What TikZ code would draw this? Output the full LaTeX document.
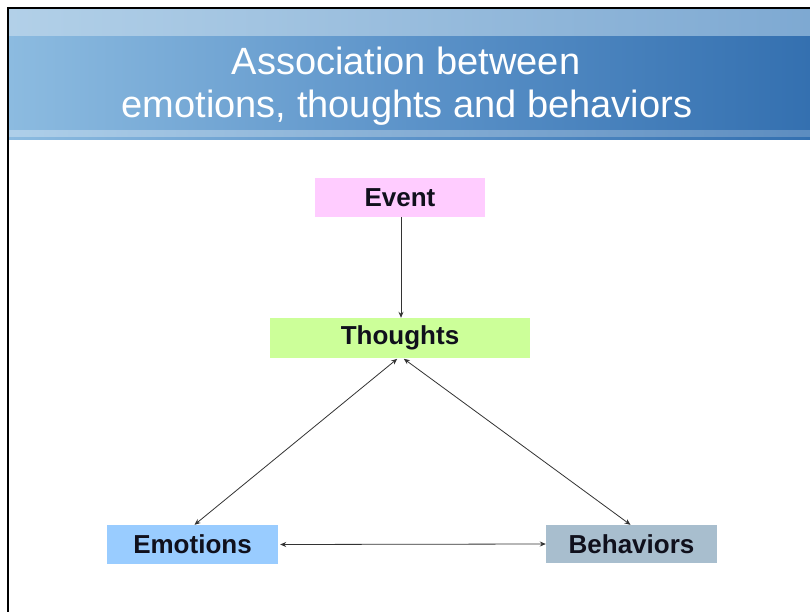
\documentclass[tikz,border=0pt]{standalone}
\usepackage{fontspec}
\setmainfont{Liberation Sans}
\usetikzlibrary{arrows.meta}
\definecolor{evpink}{HTML}{FFCCFF}
\definecolor{thgreen}{HTML}{CCFF99}
\definecolor{emblue}{HTML}{99CCFF}
\definecolor{begray}{HTML}{A8BECE}
\definecolor{txtdark}{HTML}{10101C}
\definecolor{arrowc}{HTML}{333333}
\definecolor{banL}{HTML}{8CBBE0}
\definecolor{banM}{HTML}{5C93C9}
\definecolor{banR}{HTML}{3470B0}
\definecolor{stripL}{HTML}{B2D0E8}
\definecolor{stripR}{HTML}{7EA9D2}
\tikzset{
  box/.style={draw=none, inner sep=0pt, text=txtdark, font=\fontsize{26}{31}\selectfont\bfseries},
  titletext/.style={text=white, font=\fontsize{38}{44}\selectfont, anchor=base, inner sep=0pt},
  conn/.style={draw=arrowc, line width=0.8pt, -{Stealth[length=6pt,width=5pt]}},
  conn2/.style={draw=arrowc, line width=0.8pt, {Stealth[length=6pt,width=5pt]}-{Stealth[length=6pt,width=5pt]}}
}
\begin{document}
\begin{tikzpicture}[x=1pt,y=-1pt]
\useasboundingbox (0,0) rectangle (810,612);
\fill[white] (0,0) rectangle (810,612);
% banner
\shade[left color=banL, right color=banM] (9,9) rectangle (410,140);
\shade[left color=banM, right color=banR] (409.5,9) rectangle (810,140);
\shade[left color=stripL, right color=stripR] (9,9) rectangle (810,36);
\shade[left color=banL!70!white, right color=banR!80!white] (9,131) rectangle (810,137);
% border
\draw[black, line width=2pt] (8,612) -- (8,8) -- (810,8);
% title
\node[titletext] (t1) at (406,75) {Association between};
\node[titletext] (t2) at (407,118) {emotions, thoughts and behaviors};
% boxes
\node[box, fill=evpink, minimum width=170pt, minimum height=39pt] (event) at (400,197.5) {Event};
\node[box, fill=thgreen, minimum width=260pt, minimum height=40pt] (thoughts) at (400,338) {Thoughts};
\node[box, fill=emblue, minimum width=171pt, minimum height=39pt] (emotions) at (192.5,544.5) {Emotions};
\node[box, fill=begray, minimum width=171pt, minimum height=38pt] (behaviors) at (631.5,544) {Behaviors};
% connectors
\draw[conn] ([xshift=1pt]event.south) -- ([xshift=1pt]thoughts.north);
\draw[conn2, shorten <=1pt] ([xshift=-2pt]thoughts.south) -- ([xshift=2pt]emotions.north);
\draw[conn2, shorten <=1pt] ([xshift=3pt]thoughts.south) -- ([xshift=-1pt]behaviors.north);
\draw[conn2, shorten <=2pt] (emotions.east) -- (behaviors.west);
\end{tikzpicture}
\end{document}
